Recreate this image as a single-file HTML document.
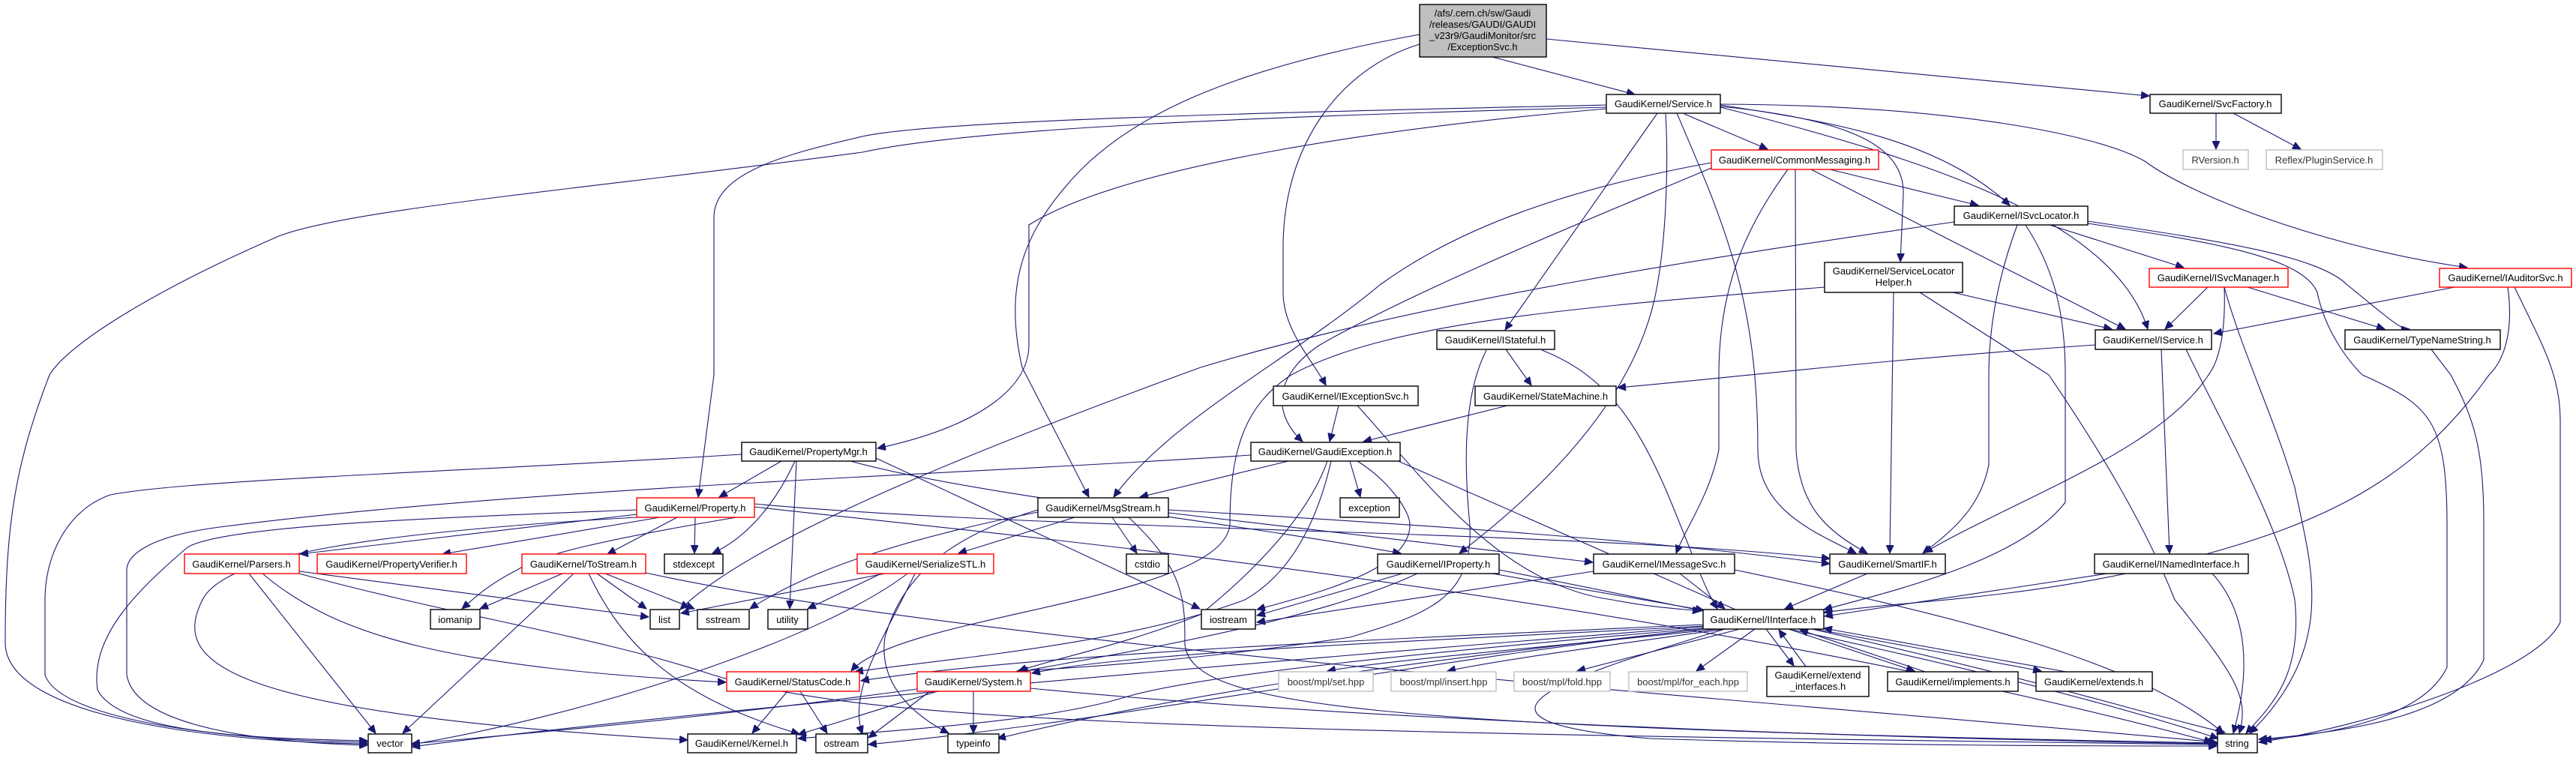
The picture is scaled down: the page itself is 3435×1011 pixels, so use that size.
<!DOCTYPE html>
<html><head><meta charset="utf-8"><style>
html,body{margin:0;padding:0;background:#fff;}
svg{display:block;}
text{font-family:"Liberation Sans",Arial,sans-serif;font-size:13px;fill:#000;text-anchor:middle;}
.n{fill:#fff;stroke:#000;stroke-width:1.4;}
.r{fill:#fff;stroke:#ff0000;stroke-width:1.4;}
.g{fill:#fff;stroke:#bfbfbf;stroke-width:1.4;}
.e path{fill:none;stroke:#191970;stroke-width:1.1;marker-end:url(#a);}
</style></head><body>
<svg width="3435" height="1011" viewBox="0 0 3435 1011" xmlns="http://www.w3.org/2000/svg">
<defs><marker id="a" markerUnits="userSpaceOnUse" markerWidth="12" markerHeight="10" refX="11" refY="5" orient="auto"><path d="M0,0 L11,5 L0,10 z" fill="#191970" stroke="#191970"/></marker></defs>
<g class="e">
<!-- root -->
<path d="M1990,76 L2180,126"/>
<path d="M2062,52 L2866,128"/>
<path d="M1893,59 C1790,90 1711,190 1711,330 L1711,390 C1711,440 1750,480 1768,514"/>
<path d="M1893,46 C1650,90 1500,152 1420,250 C1360,320 1340,390 1363,490 L1452,663"/>
<!-- SvcFactory -->
<path d="M2955,151 L2955,199"/>
<path d="M2978,151 L3068,199"/>
<!-- Service -->
<path d="M2246,152 L2357,199"/>
<path d="M2210,151 L2007,440"/>
<path d="M2221,152 C2224,200 2224,300 2210,380 C2190,500 2100,620 1946,738"/>
<path d="M2236,151 C2300,300 2344,400 2344,600 C2344,680 2420,710 2475,738"/>
<path d="M2294,140 C2420,160 2580,180 2680,274"/>
<path d="M2294,143 C2600,220 2820,300 2864,439"/>
<path d="M2294,142 C2480,160 2540,200 2538,260 L2534,349"/>
<path d="M2294,139 C2600,140 2800,180 2860,215 C2920,260 3100,330 3290,357"/>
<path d="M2142,145 C1850,170 1500,220 1372,300 L1372,460 C1372,520 1300,570 1170,598"/>
<path d="M2142,140 C1700,150 1250,160 1150,182 C1050,205 952,230 952,290 L952,500 L931,663"/>
<path d="M2142,143 C1700,155 1300,170 1150,203 C800,250 450,280 367,317 C200,390 90,460 66,500 C20,620 7,700 7,857 C7,960 300,990 490,992"/>
<!-- CommonMessaging -->
<path d="M2440,226 L2638,274"/>
<path d="M2415,226 L2834,439"/>
<path d="M2394,226 L2395,600 C2400,680 2440,710 2490,738"/>
<path d="M2384,226 C2330,300 2292,380 2292,500 L2292,600 C2280,660 2250,700 2235,738"/>
<path d="M2282,217 C2100,250 1950,300 1840,380 C1720,480 1560,560 1485,663"/>
<path d="M2282,224 C2150,280 1900,380 1760,460 C1700,500 1695,550 1737,589"/>
<!-- ISvcLocator -->
<path d="M2733,300 L2912,357"/>
<path d="M2701,300 C2740,360 2754,420 2754,500 L2754,670 C2700,740 2560,780 2432,813"/>
<path d="M2690,300 C2660,380 2652,450 2652,500 L2652,620 C2640,680 2600,710 2564,738"/>
<path d="M2606,296 C2300,340 1900,400 1601,490 C1300,600 1000,720 907,813"/>
<path d="M2784,295 C2950,320 3090,340 3130,380 C3180,420 3200,440 3213,439"/>
<path d="M2784,298 C2930,320 3070,340 3090,390 C3100,440 3130,480 3150,500 C3240,540 3263,560 3263,700 L3263,890 C3230,960 3100,980 3018,987"/>
<!-- ServiceLocatorHelper -->
<path d="M2604,390 L2816,439"/>
<path d="M2525,390 L2520,738"/>
<path d="M2560,390 L2732,500 C2800,600 2860,700 2900,800 C2980,900 3000,930 2986,978"/>
<path d="M2433,383 C2100,410 1850,430 1722,500 C1660,540 1640,600 1640,700 C1630,800 1200,820 1135,895"/>
<!-- IService -->
<path d="M2794,460 C2500,480 2300,505 2157,517"/>
<path d="M2882,466 L2893,738"/>
<path d="M2915,466 C2960,560 3040,700 3060,800 C3070,900 3030,940 2995,978"/>
<!-- ISvcManager -->
<path d="M2944,383 L2887,439"/>
<path d="M2997,383 L3180,439"/>
<path d="M2966,383 C2968,440 2960,480 2945,500 C2880,600 2700,660 2566,737"/>
<path d="M2966,383 C2990,470 3030,550 3060,650 C3080,750 3120,860 3000,978"/>
<!-- IAuditorSvc -->
<path d="M3273,383 L2952,445"/>
<path d="M3344,383 C3352,440 3340,480 3319,500 C3220,640 3100,700 2900,750 C2700,800 2550,800 2432,817"/>
<path d="M3353,383 C3390,460 3414,500 3414,560 L3414,830 C3380,900 3150,970 3012,990"/>
<!-- TypeNameString -->
<path d="M3242,466 L3268,500 C3300,560 3312,600 3312,700 L3312,880 C3280,950 3150,975 3012,986"/>
<!-- IStateful -->
<path d="M2008,466 L2042,514"/>
<path d="M2056,467 C2140,500 2180,560 2220,650 C2250,720 2270,780 2290,812"/>
<path d="M1982,467 C1955,520 1950,600 1960,700 C1965,800 1900,820 1800,850 C1600,880 1450,890 1356,895"/>
<!-- IExceptionSvc, StateMachine -->
<path d="M1785,541 L1773,589"/>
<path d="M1810,541 C1900,640 2000,780 2150,800 C2200,810 2240,812 2268,815"/>
<path d="M2010,541 L1818,589"/>
<!-- GaudiException -->
<path d="M1718,615 L1520,663"/>
<path d="M1800,615 L1814,663"/>
<path d="M1810,615 C1850,640 1880,680 1880,700 C1880,760 1760,790 1676,813"/>
<path d="M1860,613 L2330,820 C2700,900 2850,950 2967,977"/>
<path d="M1775,615 C1760,680 1730,760 1660,800 C1500,860 1250,880 1140,896"/>
<path d="M1770,615 C1740,700 1650,780 1600,820 C1500,860 1400,880 1358,895"/>
<path d="M1668,607 C1300,632 700,650 293,703 C200,715 169,740 169,760 L169,900 C180,970 350,990 490,994"/>
<!-- PropertyMgr -->
<path d="M1042,615 L959,663"/>
<path d="M1060,615 C1030,680 990,720 950,738"/>
<path d="M1062,615 L1053,812"/>
<path d="M1168,611 L1600,812"/>
<path d="M1134,615 C1300,660 1600,690 1868,738"/>
<path d="M989,606 C600,630 250,640 147,660 C90,680 60,740 60,800 L60,900 C80,960 300,988 490,990"/>
<!-- Property -->
<path d="M849,686 L400,739"/>
<path d="M880,690 L590,739"/>
<path d="M903,690 L810,739"/>
<path d="M927,690 L926,738"/>
<path d="M849,680 C600,690 300,700 250,730 C180,790 120,850 130,920 C160,980 350,985 490,988"/>
<path d="M849,690 C500,710 300,740 270,800 C230,880 280,950 917,987"/>
<path d="M1006,672 C1200,690 1500,700 1800,710 C2100,720 2300,730 2440,745"/>
<path d="M1006,676 C1300,710 2200,790 2950,990"/>
<path d="M1006,686 C800,720 720,740 690,760 C650,780 630,800 616,812"/>
<!-- ToStream -->
<path d="M750,765 L640,812"/>
<path d="M765,765 L537,978"/>
<path d="M796,765 L862,812"/>
<path d="M807,765 L926,812"/>
<path d="M785,765 C830,860 900,930 1066,979"/>
<path d="M861,764 C1300,860 2300,930 2956,990"/>
<!-- Parsers -->
<path d="M332,765 L501,978"/>
<path d="M399,762 L865,823"/>
<path d="M350,765 C450,850 600,890 968,910"/>
<path d="M399,765 C600,820 800,850 950,900 C1150,960 1500,975 2956,993"/>
<!-- SerializeSTL -->
<path d="M1180,765 L908,818"/>
<path d="M1210,765 C1100,850 800,950 549,993"/>
<path d="M1220,765 C1180,850 1130,920 1150,979"/>
<path d="M1175,765 L1077,812"/>
<!-- MsgStream -->
<path d="M1433,690 L1278,738"/>
<path d="M1483,690 L1516,738"/>
<path d="M1558,684 L2124,750"/>
<path d="M1558,680 C1900,700 2200,720 2440,752"/>
<path d="M1384,683 C1200,720 1080,760 1000,812"/>
<path d="M1505,690 C1580,760 1580,800 1580,860 C1590,940 1800,970 2956,991"/>
<path d="M1384,680 C1250,720 1200,780 1180,850 C1170,920 1230,960 1265,978"/>
<!-- IProperty -->
<path d="M1870,765 L1676,821"/>
<path d="M1999,760 C2300,820 2700,900 2958,985"/>
<path d="M1990,765 L2272,814"/>
<path d="M1890,765 C1750,830 1500,870 1360,896"/>
<!-- IMessageSvc -->
<path d="M2125,762 L1676,830"/>
<path d="M2240,765 L2300,812"/>
<path d="M2313,760 C2600,820 2850,880 2965,978"/>
<!-- SmartIF, INamedInterface -->
<path d="M2490,765 L2380,812"/>
<path d="M2810,765 L2433,822"/>
<path d="M2950,765 C3000,820 3000,900 2978,978"/>
<!-- IInterface -->
<path d="M2290,839 C2100,860 1850,880 1770,895"/>
<path d="M2300,839 C2150,860 2000,880 1930,895"/>
<path d="M2320,839 L2103,895"/>
<path d="M2340,839 L2262,895"/>
<path d="M2355,839 L2392,888"/>
<path d="M2408,889 L2372,840"/>
<path d="M2385,839 L2553,895"/>
<path d="M2567,896 L2400,840"/>
<path d="M2420,839 L2722,895"/>
<path d="M2755,896 L2432,838"/>
<path d="M2271,833 C1900,850 1400,870 1148,908"/>
<path d="M2271,835 C1900,855 1500,870 1376,898"/>
<path d="M2271,838 C1900,870 1600,900 1500,930 C1400,960 1250,970 1064,985"/>
<path d="M2271,839 C1900,880 1500,960 1158,993"/>
<path d="M2271,839 C1900,880 1600,920 1330,985"/>
<path d="M2300,839 C2100,900 1900,960 2200,985 C2500,995 2800,995 2956,995"/>
<path d="M2271,836 C1700,880 900,950 549,996"/>
<!-- System, StatusCode -->
<path d="M1230,918 C1000,950 800,970 549,992"/>
<path d="M1250,922 L1064,980"/>
<path d="M1240,922 L1158,984"/>
<path d="M1298,922 L1298,978"/>
<path d="M1374,918 C1800,960 2500,985 2956,992"/>
<path d="M1050,922 L1003,978"/>
<path d="M1067,922 L1103,978"/>
</g>
<!-- nodes -->
<rect x="1893" y="6" width="169" height="70" fill="#bfbfbf" stroke="#000" stroke-width="1.4"/>
<text x="1977" y="22">/afs/.cern.ch/sw/Gaudi</text>
<text x="1977" y="37">/releases/GAUDI/GAUDI</text>
<text x="1977" y="52">_v23r9/GaudiMonitor/src</text>
<text x="1977" y="67">/ExceptionSvc.h</text>

<rect class="n" x="2142" y="126" width="152" height="25"/><text x="2218" y="143">GaudiKernel/Service.h</text>
<rect class="n" x="2867" y="126" width="175" height="25"/><text x="2954" y="143">GaudiKernel/SvcFactory.h</text>
<rect class="r" x="2282" y="200" width="223" height="26"/><text x="2393" y="218">GaudiKernel/CommonMessaging.h</text>
<rect class="g" x="2911" y="200" width="87" height="26"/><text x="2954" y="218" style="fill:#333">RVersion.h</text>
<rect class="g" x="3022" y="200" width="155" height="26"/><text x="3099" y="218" style="fill:#333">Reflex/PluginService.h</text>
<rect class="n" x="2606" y="275" width="178" height="25"/><text x="2695" y="292">GaudiKernel/ISvcLocator.h</text>
<rect class="n" x="2433" y="350" width="184" height="40"/><text x="2525" y="366">GaudiKernel/ServiceLocator</text><text x="2525" y="381">Helper.h</text>
<rect class="r" x="2866" y="358" width="185" height="25"/><text x="2958" y="375">GaudiKernel/ISvcManager.h</text>
<rect class="r" x="3253" y="358" width="176" height="25"/><text x="3341" y="375">GaudiKernel/IAuditorSvc.h</text>
<rect class="n" x="1916" y="441" width="157" height="25"/><text x="1994" y="458">GaudiKernel/IStateful.h</text>
<rect class="n" x="2794" y="440" width="155" height="26"/><text x="2871" y="458">GaudiKernel/IService.h</text>
<rect class="n" x="3127" y="440" width="207" height="26"/><text x="3230" y="458">GaudiKernel/TypeNameString.h</text>
<rect class="n" x="1698" y="515" width="193" height="26"/><text x="1794" y="533">GaudiKernel/IExceptionSvc.h</text>
<rect class="n" x="1967" y="515" width="188" height="26"/><text x="2061" y="533">GaudiKernel/StateMachine.h</text>
<rect class="n" x="989" y="590" width="179" height="25"/><text x="1078" y="607">GaudiKernel/PropertyMgr.h</text>
<rect class="n" x="1668" y="590" width="199" height="25"/><text x="1767" y="607">GaudiKernel/GaudiException.h</text>
<rect class="r" x="849" y="664" width="157" height="26"/><text x="927" y="682">GaudiKernel/Property.h</text>
<rect class="n" x="1384" y="664" width="174" height="26"/><text x="1471" y="682">GaudiKernel/MsgStream.h</text>
<rect class="n" x="1787" y="664" width="79" height="26"/><text x="1826" y="682">exception</text>
<rect class="r" x="246" y="739" width="153" height="26"/><text x="322" y="757">GaudiKernel/Parsers.h</text>
<rect class="r" x="423" y="739" width="199" height="26"/><text x="522" y="757">GaudiKernel/PropertyVerifier.h</text>
<rect class="r" x="696" y="739" width="165" height="26"/><text x="778" y="757">GaudiKernel/ToStream.h</text>
<rect class="n" x="886" y="739" width="78" height="26"/><text x="925" y="757">stdexcept</text>
<rect class="r" x="1143" y="739" width="182" height="26"/><text x="1234" y="757">GaudiKernel/SerializeSTL.h</text>
<rect class="n" x="1502" y="739" width="56" height="26"/><text x="1530" y="757">cstdio</text>
<rect class="n" x="1837" y="739" width="162" height="26"/><text x="1918" y="757">GaudiKernel/IProperty.h</text>
<rect class="n" x="2125" y="739" width="188" height="26"/><text x="2219" y="757">GaudiKernel/IMessageSvc.h</text>
<rect class="n" x="2440" y="739" width="154" height="26"/><text x="2517" y="757">GaudiKernel/SmartIF.h</text>
<rect class="n" x="2793" y="739" width="205" height="26"/><text x="2895" y="757">GaudiKernel/INamedInterface.h</text>
<rect class="n" x="574" y="813" width="66" height="26"/><text x="607" y="831">iomanip</text>
<rect class="n" x="867" y="813" width="39" height="26"/><text x="886" y="831">list</text>
<rect class="n" x="930" y="813" width="69" height="26"/><text x="964" y="831">sstream</text>
<rect class="n" x="1024" y="813" width="53" height="26"/><text x="1050" y="831">utility</text>
<rect class="n" x="1602" y="813" width="72" height="26"/><text x="1638" y="831">iostream</text>
<rect class="n" x="2271" y="813" width="161" height="26"/><text x="2351" y="831">GaudiKernel/IInterface.h</text>
<rect class="r" x="969" y="896" width="177" height="26"/><text x="1057" y="914">GaudiKernel/StatusCode.h</text>
<rect class="r" x="1223" y="896" width="151" height="26"/><text x="1298" y="914">GaudiKernel/System.h</text>
<rect class="g" x="1705" y="896" width="126" height="26"/><text x="1768" y="914" style="fill:#333">boost/mpl/set.hpp</text>
<rect class="g" x="1855" y="896" width="140" height="26"/><text x="1925" y="914" style="fill:#333">boost/mpl/insert.hpp</text>
<rect class="g" x="2019" y="896" width="128" height="26"/><text x="2083" y="914" style="fill:#333">boost/mpl/fold.hpp</text>
<rect class="g" x="2172" y="896" width="158" height="26"/><text x="2251" y="914" style="fill:#333">boost/mpl/for_each.hpp</text>
<rect class="n" x="2356" y="889" width="136" height="40"/><text x="2424" y="905">GaudiKernel/extend</text><text x="2424" y="920">_interfaces.h</text>
<rect class="n" x="2517" y="896" width="174" height="26"/><text x="2604" y="914">GaudiKernel/implements.h</text>
<rect class="n" x="2715" y="896" width="155" height="26"/><text x="2792" y="914">GaudiKernel/extends.h</text>
<rect class="n" x="491" y="979" width="58" height="25"/><text x="520" y="996">vector</text>
<rect class="n" x="917" y="979" width="145" height="25"/><text x="989" y="996">GaudiKernel/Kernel.h</text>
<rect class="n" x="1088" y="979" width="69" height="25"/><text x="1122" y="996">ostream</text>
<rect class="n" x="1264" y="979" width="68" height="25"/><text x="1298" y="996">typeinfo</text>
<rect class="n" x="2957" y="979" width="53" height="25"/><text x="2983" y="996">string</text>
</svg>
</body></html>
